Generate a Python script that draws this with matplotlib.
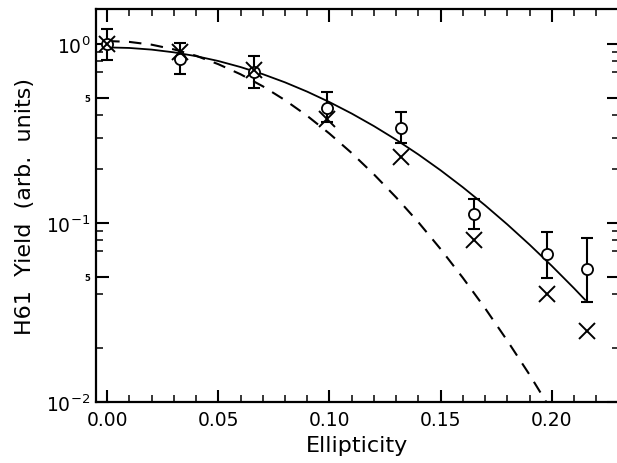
import matplotlib
matplotlib.use("Agg")
import matplotlib.pyplot as plt

# ---- data ----
ellipticity = [0.0, 0.033, 0.066, 0.099, 0.132, 0.165, 0.198, 0.216]
circle_yield = [1.0, 0.83, 0.70, 0.44, 0.34, 0.113, 0.067, 0.055]
circle_err_hi = [1.22, 1.02, 0.86, 0.537, 0.415, 0.137, 0.089, 0.082]
circle_err_lo = [0.81, 0.68, 0.57, 0.366, 0.279, 0.093, 0.049, 0.036]
cross_yield = [1.0, 0.90, 0.716, 0.38, 0.233, 0.080, 0.040, 0.025]

solid_x = [0.0, 0.01, 0.02, 0.03, 0.04, 0.05, 0.06, 0.07, 0.08, 0.09, 0.10,
           0.11, 0.12, 0.13, 0.14, 0.15, 0.16, 0.17, 0.18, 0.19, 0.20, 0.21, 0.215]
solid_y = [0.958, 0.951, 0.931, 0.899, 0.856, 0.804, 0.744, 0.679, 0.611, 0.542,
           0.474, 0.409, 0.348, 0.292, 0.2415, 0.197, 0.1584, 0.1256, 0.0982,
           0.0757, 0.0576, 0.0432, 0.0372]

dashed_x = [0.0, 0.01, 0.02, 0.03, 0.04, 0.05, 0.06, 0.07, 0.08, 0.09, 0.10,
            0.11, 0.12, 0.13, 0.14, 0.15, 0.16, 0.17, 0.18, 0.19, 0.20]
dashed_y = [1.04, 1.028, 0.992, 0.934, 0.860, 0.772, 0.678, 0.581, 0.486, 0.397,
            0.316, 0.246, 0.187, 0.139, 0.101, 0.0715, 0.0494, 0.0334, 0.0220,
            0.0142, 0.0089]

x_ticks = [0.0, 0.05, 0.10, 0.15, 0.20]
x_ticklabels = ["0.00", "0.05", "0.10", "0.15", "0.20"]
x_minor = [0.01, 0.02, 0.03, 0.04, 0.06, 0.07, 0.08, 0.09, 0.11, 0.12, 0.13,
           0.14, 0.16, 0.17, 0.18, 0.19, 0.21, 0.22]
y_ticks = [0.01, 0.05, 0.1, 0.5, 1.0]
y_ticklabels = [r"$10^{-2}$", "5", r"$10^{-1}$", "5", r"$10^{0}$"]
y_minor = [0.02, 0.04, 0.07, 0.08, 0.09, 0.2, 0.3, 0.4, 0.7, 0.8, 0.9]

plt.rcParams['font.family'] = ['DejaVu Sans']

fig = plt.figure(figsize=(6.17, 4.64), dpi=100)
ax = fig.add_axes([96 / 617, 1 - 403 / 464, (618.5 - 96) / 617, (403 - 9.5) / 464])

ax.set_yscale('log')

# curves
ax.plot(solid_x, solid_y, color='black', lw=1.3, zorder=2)
ax.plot(dashed_x, dashed_y, color='black', lw=1.5, dashes=(6, 4.5), zorder=2)

# error bars
yerr = [[c - lo for c, lo in zip(circle_yield, circle_err_lo)],
        [hi - c for c, hi in zip(circle_yield, circle_err_hi)]]
ax.errorbar(ellipticity, circle_yield, yerr=yerr, fmt='none', ecolor='black',
            elinewidth=1.5, capsize=4, capthick=1.5, zorder=3)
ax.plot(ellipticity, circle_yield, 'o', ms=8, mfc='white', mec='black',
        mew=1.3, ls='none', zorder=4)
ax.plot(ellipticity, cross_yield, 'x', ms=11, mec='black', mew=1.4,
        ls='none', zorder=5)

ax.set_xlim(-0.005, 0.23)
ax.set_ylim(0.01, 1.58)

ax.set_xticks(x_ticks)
ax.set_xticklabels(x_ticklabels)
ax.set_xticks(x_minor, minor=True)
ax.set_yticks(y_ticks)
ax.set_yticklabels(y_ticklabels)
ax.set_yticks(y_minor, minor=True)
ax.yaxis.set_minor_formatter(matplotlib.ticker.NullFormatter())

ax.tick_params(which='both', direction='in', top=True, right=True, colors='black')
ax.tick_params(which='major', length=9, width=1.5, labelsize=13.5)
ax.tick_params(which='minor', length=5, width=1.1)
ax.tick_params(axis='x', which='major', pad=6)
ax.tick_params(axis='y', which='major', pad=4)

for tl in ax.get_yticklabels():
    if tl.get_text() == "5":
        tl.set_fontsize(6)
        tl.set_fontweight('bold')

for sp in ax.spines.values():
    sp.set_linewidth(1.6)

ax.set_xlabel("Ellipticity", fontsize=16, labelpad=4)
ax.set_ylabel("H61  Yield  (arb.  units)", fontsize=16, labelpad=8)

fig.savefig("out.png", dpi=100)
